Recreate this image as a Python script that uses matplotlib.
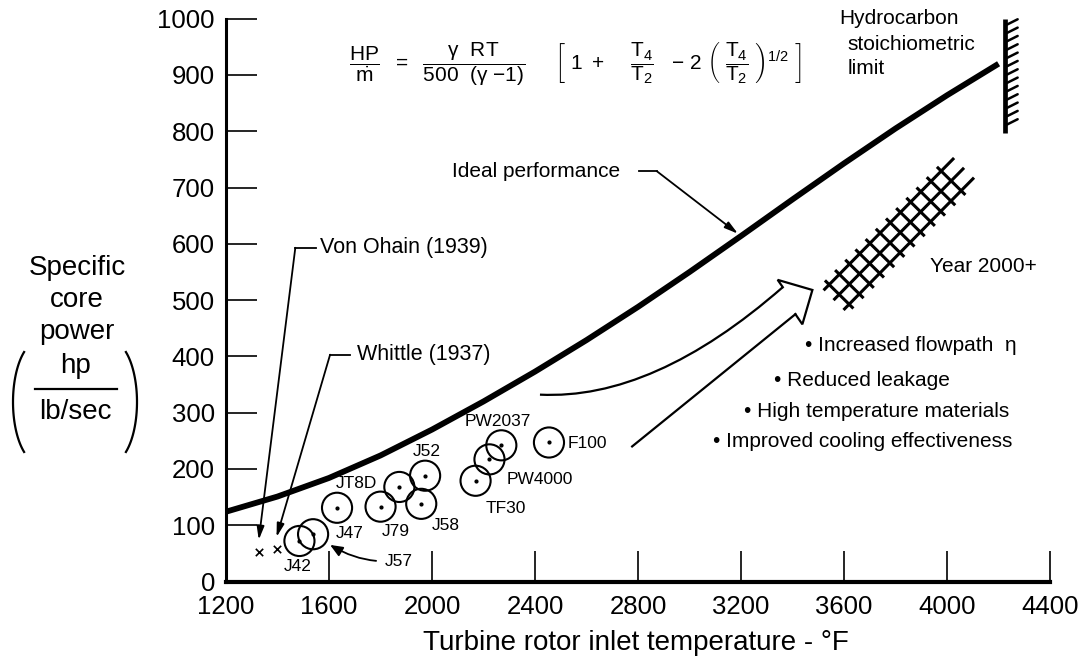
import numpy as np
import matplotlib
matplotlib.use("Agg")
import matplotlib.pyplot as plt
from matplotlib.patches import PathPatch
from matplotlib.path import Path

plt.rcParams['font.family'] = ['Liberation Sans', 'DejaVu Sans']
plt.rcParams['mathtext.fontset'] = 'custom'
plt.rcParams['mathtext.rm'] = 'Liberation Sans'
plt.rcParams['mathtext.it'] = 'Liberation Sans'
plt.rcParams['mathtext.bf'] = 'Liberation Sans:bold'

# ideal performance curve
ideal_temp = [1200, 1400, 1600, 1800, 2000, 2200, 2400, 2600, 2800, 3000,
              3200, 3400, 3600, 3800, 4000, 4200]
ideal_power = [124, 151, 184, 224, 270, 320, 373, 429, 488, 550,
               614, 679, 743, 805, 864, 920]

# engines
engines = ['J42', 'J57', 'J47', 'J79', 'JT8D', 'J52', 'J58', 'TF30',
           'PW4000', 'PW2037', 'F100']
engine_temp = [1485, 1538, 1631, 1800, 1873, 1973, 1958, 2169, 2223, 2269, 2454]
engine_power = [72, 84, 131, 133, 168, 188, 138, 179, 217, 242, 247]

# early engines
pioneers = ['Von Ohain (1939)', 'Whittle (1937)']
pioneer_temp = [1327, 1396]
pioneer_power = [52, 57]

stoich_temp = 4226
stoich_range = [797, 1000]

bullets = ['Increased flowpath  \u03b7', 'Reduced leakage',
           'High temperature materials', 'Improved cooling effectiveness']

x_ticks = [1200, 1600, 2000, 2400, 2800, 3200, 3600, 4000, 4400]
y_ticks = [0, 100, 200, 300, 400, 500, 600, 700, 800, 900, 1000]

fig = plt.figure(figsize=(10.79, 6.59), dpi=100)
ax = fig.add_axes([0.2095, 0.1176, 0.7637, 0.854])
ax.set_xlim(1200, 4400)
ax.set_ylim(0, 1000)
for s in ['top', 'right']:
    ax.spines[s].set_visible(False)
ax.spines['left'].set_linewidth(2.2)
ax.spines['bottom'].set_linewidth(3.0)
ax.set_xticks(x_ticks)
ax.set_yticks(y_ticks)
ax.tick_params(direction='in', length=22, width=1.2, labelsize=18.5, pad=8)
ax.tick_params(axis='x', pad=10)

# ideal curve
ax.plot(ideal_temp, ideal_power, color='black', lw=4.2, solid_capstyle='butt',
        solid_joinstyle='round', clip_on=False, zorder=3)

# engine circles
ax.scatter(engine_temp, engine_power, s=470, facecolors='none',
           edgecolors='black', linewidths=1.5, zorder=4)
ax.scatter(engine_temp, engine_power, s=4, color='black', zorder=4)

label_off = {'J42': (-1.4, -18.7, 'center'), 'J47': (9.4, -18.7, 'center'),
             'J79': (10.8, -18, 'center'), 'JT8D': (-15.8, 2.2, 'right'),
             'J52': (1.4, 17.3, 'center'), 'J58': (18, -15.8, 'center'),
             'TF30': (21.6, -20, 'center'), 'PW4000': (12.2, -14.4, 'left'),
             'PW2037': (-2.2, 17.3, 'center'), 'F100': (13.7, -0.7, 'left')}
for name, t, p in zip(engines, engine_temp, engine_power):
    if name in label_off:
        dx, dy, ha = label_off[name]
        ax.annotate(name, (t, p), xytext=(dx, dy), textcoords='offset points',
                    ha=ha, va='center', fontsize=12.5)
    else:
        ax.annotate(name, (1604, 65), xytext=(1815, 36), textcoords='data',
                    ha='left', va='center', fontsize=12.5,
                    arrowprops=dict(arrowstyle='-|>,head_length=0.6,head_width=0.25',
                                    color='black', lw=1.3, relpos=(0, 0.5),
                                    shrinkA=4, shrinkB=0,
                                    connectionstyle='angle3,angleA=0,angleB=149'))

# pioneers
ax.scatter(pioneer_temp, pioneer_power, marker='x', s=28, color='black',
           linewidths=1.2, zorder=4)
lead = [(1469, 593, 1550, 1565), (1604, 403, 1681, 1708)]
for name, t, p, (lx, ly, rx, tx) in zip(pioneers, pioneer_temp, pioneer_power, lead):
    ax.plot([lx, rx], [ly, ly], color='black', lw=1.3)
    ax.annotate('', (t, p + 22), xytext=(lx, ly),
                arrowprops=dict(arrowstyle='-|>,head_length=0.8,head_width=0.22',
                                color='black', lw=1.3, shrinkA=0, shrinkB=0))
    ax.text(tx, ly, name, ha='left', va='center', fontsize=15.5)

# ideal performance label
ax.text(2731, 729, 'Ideal performance', ha='right', va='center', fontsize=15)
ax.plot([2804, 2873], [729, 729], color='black', lw=1.3)
ax.annotate('', (3188, 618), xytext=(2873, 729),
            arrowprops=dict(arrowstyle='-|>,head_length=0.8,head_width=0.22',
                            color='black', lw=1.3, shrinkA=0, shrinkB=0))

# stoichiometric wall with short hatch ticks on its right side
ax.plot([stoich_temp, stoich_temp], stoich_range, color='black', lw=3.4,
        clip_on=False, solid_capstyle='butt', zorder=3)
for yy in np.arange(stoich_range[1] - 12, stoich_range[0] + 5, -14.8):
    ax.plot([stoich_temp, stoich_temp + 48], [yy, yy + 11], color='black',
            lw=1.8, solid_capstyle='round', clip_on=False)
ax.text(3583, 1001, 'Hydrocarbon', fontsize=15, va='center', clip_on=False)
ax.text(3612, 954, 'stoichiometric', fontsize=15, va='center')
ax.text(3612, 911, 'limit', fontsize=15, va='center')

# year 2000+ cross-hatched band, built in pixel space then mapped back
p0 = ax.transData.transform((3570, 505))
p1 = ax.transData.transform((4055, 730))
u = (p1 - p0) / np.hypot(*(p1 - p0))
n = np.array([-u[1], u[0]])
inv = ax.transData.inverted()
L = np.hypot(*(p1 - p0))
for off in [-14, 0, 14]:
    a = inv.transform(p0 + n * off - u * 4)
    b = inv.transform(p0 + n * off + u * (L + 4))
    ax.plot([a[0], b[0]], [a[1], b[1]], color='black', lw=2.2,
            solid_capstyle='butt')
for d in np.arange(4, L, 14.5):
    a = inv.transform(p0 + u * d - n * 20)
    b = inv.transform(p0 + u * d + n * 20)
    ax.plot([a[0], b[0]], [a[1], b[1]], color='black', lw=2.2,
            solid_capstyle='butt')
ax.text(3935, 559, 'Year 2000+', fontsize=15, va='center')

# hollow arrow
ax.add_patch(PathPatch(Path([(2419, 332), (2860, 322), (3362, 523)],
                            [Path.MOVETO, Path.CURVE3, Path.CURVE3]),
                       facecolor='none', edgecolor='black', lw=1.6))
ax.plot([2777, 3411], [240, 475], color='black', lw=1.6)
ax.plot([3362, 3342, 3477, 3438, 3411], [523, 536, 518, 457, 475],
        color='black', lw=1.6, solid_joinstyle='miter')

# bullet list
bx = [3450, 3327, 3212, 3092]
by = [419, 358, 302, 249]
for t, x, y in zip(bullets, bx, by):
    ax.text(x, y, '\u2022 ' + t, fontsize=15, va='center', ha='left')

# y label
W, H = 1079, 659
fig.text(77 / W, 1 - 300 / H, 'Specific\ncore\npower', ha='center',
         va='center', fontsize=20, linespacing=1.3)
fig.text(75 / W, 1 - 366 / H, 'hp', ha='center', va='center', fontsize=20)
fig.text(75 / W, 1 - 412 / H, 'lb/sec', ha='center', va='center', fontsize=20)
fig.add_artist(plt.Line2D([35 / W, 117 / W], [1 - 389 / H, 1 - 389 / H],
                          transform=fig.transFigure, color='black', lw=1.6))
tt = np.radians(np.linspace(125, 235, 40))
for cx, sgn in [(39, 1), (111, -1)]:
    px = cx + sgn * 26 * np.cos(tt)
    py = 402 + 61 * np.sin(tt)
    fig.add_artist(plt.Line2D(px / W, 1 - py / H, transform=fig.transFigure,
                              color='black', lw=1.6))

fig.text(636 / W, 1 - 643 / H, 'Turbine rotor inlet temperature - \u00b0F',
         ha='center', va='center', fontsize=20)

# equation
eq = (r'$\dfrac{HP}{\dot{m}}\ \ =\ \ \dfrac{\gamma\ \ RT}'
      r'{500\ \ (\gamma\ {-}1)}\quad\ \ \left[\ 1\ +\ \ \ \ \dfrac{T_4}{T_2}\ \ \ {-}\ 2\ \left(\ \dfrac{T_4}{T_2}\ \right)^{1/2}\ \right]$')
fig.text(575 / W, 1 - 64 / H, eq, ha='center', va='center', fontsize=15)

fig.savefig('out.png', dpi=100)
